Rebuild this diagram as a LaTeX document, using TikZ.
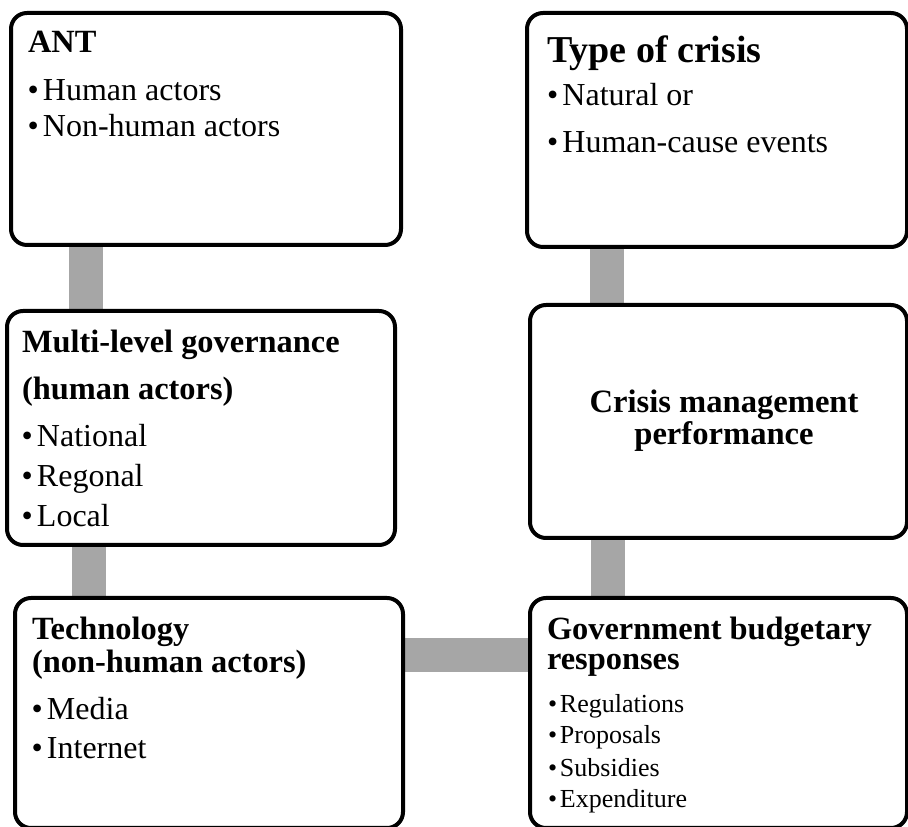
\documentclass[tikz,border=0pt]{standalone}
\usepackage{fontspec}
\setmainfont{Liberation Serif}
\usetikzlibrary{backgrounds}
\definecolor{connGray}{HTML}{A6A6A6}
\tikzset{
  box/.style={draw, line width=4pt, rounded corners=16pt, fill=white, inner sep=0pt, outer sep=0pt},
  conn/.style={draw=connGray, line width=34pt},
  lbl/.style={anchor=base west, inner sep=0pt, outer sep=0pt},
  ttl/.style={lbl, font=\bfseries\fontsize{32.4}{38}\selectfont},
  bigttl/.style={lbl, font=\bfseries\fontsize{38}{45}\selectfont},
  itm/.style={lbl, font=\fontsize{32}{38}\selectfont},
  smitm/.style={lbl, font=\fontsize{26}{31}\selectfont},
  ctr/.style={anchor=base, inner sep=0pt, outer sep=0pt, font=\bfseries\fontsize{32.6}{38}\selectfont},
}
\newcommand{\bul}{\makebox[15.5pt][l]{•}}
\newcommand{\sbul}{\makebox[12pt][l]{•}}
\begin{document}
\begin{tikzpicture}[x=1pt,y=1pt]
\useasboundingbox (0,0) rectangle (908,827);
% boxes
\node[box, minimum width=390pt, minimum height=232pt] (ant) at (206,698) {};
\node[box, minimum width=380pt, minimum height=234pt] (type) at (717,697) {};
\node[box, minimum width=388pt, minimum height=234pt] (multi) at (201,399) {};
\node[box, minimum width=377pt, minimum height=233pt] (crisis) at (718.5,405.5) {};
\node[box, minimum width=388pt, minimum height=230pt] (tech) at (209,114) {};
\node[box, minimum width=377pt, minimum height=230pt] (gov) at (718.5,114) {};
% connectors
\begin{pgfonlayer}{background}
\draw[conn] ([xshift=75pt]ant.south west) -- ([xshift=75pt]ant.south west |- multi.north);
\draw[conn] ([xshift=82pt]multi.south west) -- ([xshift=82pt]multi.south west |- tech.north);
\draw[conn] ([xshift=80pt]type.south west) -- ([xshift=80pt]type.south west |- crisis.north);
\draw[conn] ([xshift=78pt]crisis.south west) -- ([xshift=78pt]crisis.south west |- gov.north);
\draw[conn] ([yshift=58pt]tech.east) -- ([yshift=58pt]tech.east -| gov.west);
\end{pgfonlayer}
% ANT
\node[ttl] (ant-t) at (28,774) {ANT};
\node[itm] (ant-1) at (27.5,726) {\bul Human actors};
\node[itm] (ant-2) at (27.5,690) {\bul Non-human actors};
% Type of crisis
\node[bigttl] (type-t) at (547,764) {Type of crisis};
\node[itm] (type-1) at (547,721) {\bul Natural or};
\node[itm] (type-2) at (547,674) {\bul Human-cause events};
% Multi-level
\node[ttl] (multi-t1) at (22,474) {Multi-level governance};
\node[ttl] (multi-t2) at (22,427) {(human actors)};
\node[itm] (multi-1) at (21.5,380) {\bul National};
\node[itm] (multi-2) at (21.5,340) {\bul Regonal};
\node[itm] (multi-3) at (21.5,300) {\bul Local};
% Crisis management
\node[ctr] (crisis-t1) at (724,414) {Crisis management};
\node[ctr] (crisis-t2) at (724,382) {performance};
% Technology
\node[ttl] (tech-t1) at (32,187) {Technology};
\node[ttl] (tech-t2) at (32,154) {(non-human actors)};
\node[itm] (tech-1) at (31.5,107) {\bul Media};
\node[itm] (tech-2) at (31.5,68) {\bul Internet};
% Government
\node[ttl] (gov-t1) at (547,187) {Government budgetary};
\node[ttl] (gov-t2) at (547,157) {responses};
\node[smitm] (gov-1) at (548,114) {\sbul Regulations};
\node[smitm] (gov-2) at (548,83) {\sbul Proposals};
\node[smitm] (gov-3) at (548,50) {\sbul Subsidies};
\node[smitm] (gov-4) at (548,19) {\sbul Expenditure};
\end{tikzpicture}
\end{document}
